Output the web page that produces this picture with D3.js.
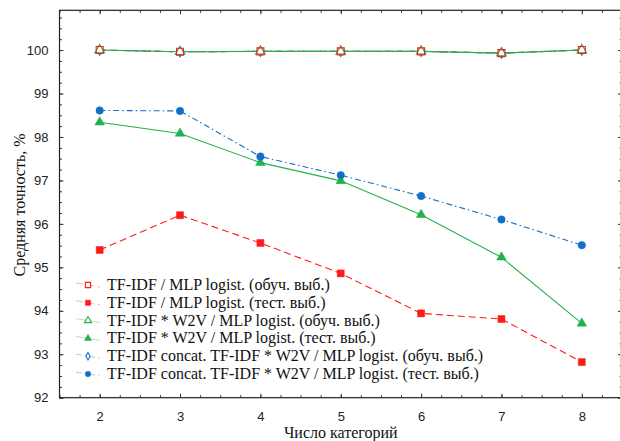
<!DOCTYPE html>
<html><head><meta charset="utf-8">
<script src="https://cdn.jsdelivr.net/npm/d3@7"></script>
<style>body{margin:0;background:#fff}svg{display:block}</style>
</head><body>
<svg id="c" width="620" height="441"></svg>
<script>
const categories = [2, 3, 4, 5, 6, 7, 8];
const tfidfTrain  = [100.0, 99.96, 99.97, 99.97, 99.97, 99.93, 100.0];
const tfidfTest   = [95.40, 96.20, 95.56, 94.86, 93.94, 93.81, 92.82];
const w2vTrain    = [100.0, 99.96, 99.97, 99.97, 99.97, 99.93, 100.0];
const w2vTest     = [98.34, 98.08, 97.41, 96.99, 96.21, 95.23, 93.71];
const concatTrain = [100.0, 99.96, 99.97, 99.97, 99.97, 99.93, 100.0];
const concatTest  = [98.61, 98.60, 97.55, 97.12, 96.64, 96.10, 95.51];
const yTicks = [92, 93, 94, 95, 96, 97, 98, 99, 100];
const xTicks = [2, 3, 4, 5, 6, 7, 8];
const labels = [
  "TF-IDF / MLP logist. (обуч. выб.)",
  "TF-IDF / MLP logist. (тест. выб.)",
  "TF-IDF * W2V / MLP logist. (обуч. выб.)",
  "TF-IDF * W2V / MLP logist. (тест. выб.)",
  "TF-IDF concat. TF-IDF * W2V / MLP logist. (обуч. выб.)",
  "TF-IDF concat. TF-IDF * W2V / MLP logist. (тест. выб.)"
];
const yTitle = "Средняя точность, %";
const xTitle = "Число категорий";

const SERIF = "'Liberation Serif', 'Times New Roman', serif";
const SANS = "'Liberation Sans', Arial, sans-serif";
const RED = "#ff1a1a", GREEN = "#22b14c", BLUE = "#1070c8";
// series in legend order
const series = [
  {vals: tfidfTrain, color: RED, dash: "7,4", marker: "sq", fill: false},
  {vals: tfidfTest, color: RED, dash: "7,4", marker: "sq", fill: true},
  {vals: w2vTrain, color: GREEN, dash: null, marker: "tri", fill: false},
  {vals: w2vTest, color: GREEN, dash: null, marker: "tri", fill: true},
  {vals: concatTrain, color: BLUE, dash: "6,3,1.5,3", marker: "dia", fill: false},
  {vals: concatTest, color: BLUE, dash: "6,3,1.5,3", marker: "circ", fill: true}
];
const lineOrder = [1, 3, 5, 0, 4, 2];
const markerOrder = [1, 3, 5, 4, 2, 0];

const svg = d3.select("#c");
const L = 59.5, R = 622, T = 10.3, B = 397.7;
const x = d3.scaleLinear().domain([1.5, 8.5]).range([L, R]);
const y = d3.scaleLinear().domain([92, 100.915]).range([B, T]);

const symMap = {sq: d3.symbolSquare, tri: d3.symbolTriangle, dia: d3.symbolDiamond, circ: d3.symbolCircle};
function marker(g, s, cx, cy, scale, hollowFill) {
  const sizes = {sq: 49, tri: 40, dia: 30, circ: 44};
  g.append("path")
    .attr("d", d3.symbol().type(symMap[s.marker]).size(sizes[s.marker] * scale)())
    .attr("transform", `translate(${cx},${cy})`)
    .attr("fill", s.fill ? s.color : hollowFill)
    .attr("stroke", s.color)
    .attr("stroke-width", s.fill ? 0.5 : 1.1);
}

// axes (ticks inward on all four sides)
const minorX = d3.range(1.5, 8.51, 0.25);
const minorY = d3.range(92, 100.92, 0.25);
const axG = svg.append("g");
function addAxis(axis, tr) {
  const g = axG.append("g").attr("transform", tr).call(axis);
  g.select(".domain").remove();
  g.selectAll("line").attr("stroke", "#333");
  return g;
}
addAxis(d3.axisBottom(x).tickValues(minorX).tickSize(-2.5).tickFormat(""), `translate(0,${B})`);
addAxis(d3.axisTop(x).tickValues(minorX).tickSize(-2.5).tickFormat(""), `translate(0,${T})`);
addAxis(d3.axisLeft(y).tickValues(minorY).tickSize(-2.5).tickFormat(""), `translate(${L},0)`);
addAxis(d3.axisRight(y).tickValues(minorY).tickSize(-2.5).tickFormat(""), `translate(${R},0)`);
const xb = addAxis(d3.axisBottom(x).tickValues(xTicks).tickSize(-4).tickPadding(14).tickFormat(d3.format("d")), `translate(0,${B})`);
addAxis(d3.axisTop(x).tickValues(xTicks).tickSize(-4).tickFormat(""), `translate(0,${T})`);
const yl = addAxis(d3.axisLeft(y).tickValues(yTicks).tickSize(-4).tickPadding(11).tickFormat(d3.format("d")), `translate(${L},0)`);
addAxis(d3.axisRight(y).tickValues(yTicks).tickSize(-4).tickFormat(""), `translate(${R},0)`);
[xb, yl].forEach(g => g.selectAll("text").attr("font-family", SANS).attr("font-size", 13).attr("fill", "#222"));

svg.append("rect").attr("x", L).attr("y", T).attr("width", R - L).attr("height", B - T)
  .attr("fill", "none").attr("stroke", "#222").attr("stroke-width", 1.2);

// lines
const line = d3.line().x((d, i) => x(categories[i])).y(d => y(d));
lineOrder.forEach(si => {
  const s = series[si];
  svg.append("path").attr("d", line(s.vals)).attr("fill", "none")
    .attr("stroke", s.color).attr("stroke-width", 1.1)
    .attr("stroke-dasharray", s.dash);
});
markerOrder.forEach(si => {
  const s = series[si];
  const g = svg.append("g");
  s.vals.forEach((v, i) => marker(g, s, x(categories[i]), y(v), 1, si === 0 ? "none" : "#fff"));
});

// legend
const lg = svg.append("g");
series.forEach((s, k) => {
  const cy = 285 + k * 17.8;
  lg.append("line").attr("x1", 76).attr("x2", 100).attr("y1", cy - 2).attr("y2", cy + 2)
    .attr("stroke", s.color).attr("stroke-width", 1).attr("opacity", 0.35)
    .attr("stroke-dasharray", s.dash);
  marker(lg, s, 88, cy, 0.55, "#fff");
  lg.append("text").attr("x", 107).attr("y", cy + 5)
    .attr("font-family", SERIF).attr("font-size", 16)
    .attr("fill", "#111").text(labels[k]);
});

// titles
svg.append("text").attr("x", (L + R) / 2).attr("y", 438).attr("text-anchor", "middle")
  .attr("font-family", SERIF).attr("font-size", 16)
  .attr("fill", "#111").text(xTitle);
svg.append("text").attr("transform", "translate(25,205) rotate(-90)").attr("text-anchor", "middle")
  .attr("font-family", SERIF).attr("font-size", 16)
  .attr("fill", "#111").text(yTitle);
</script>
</body></html>
